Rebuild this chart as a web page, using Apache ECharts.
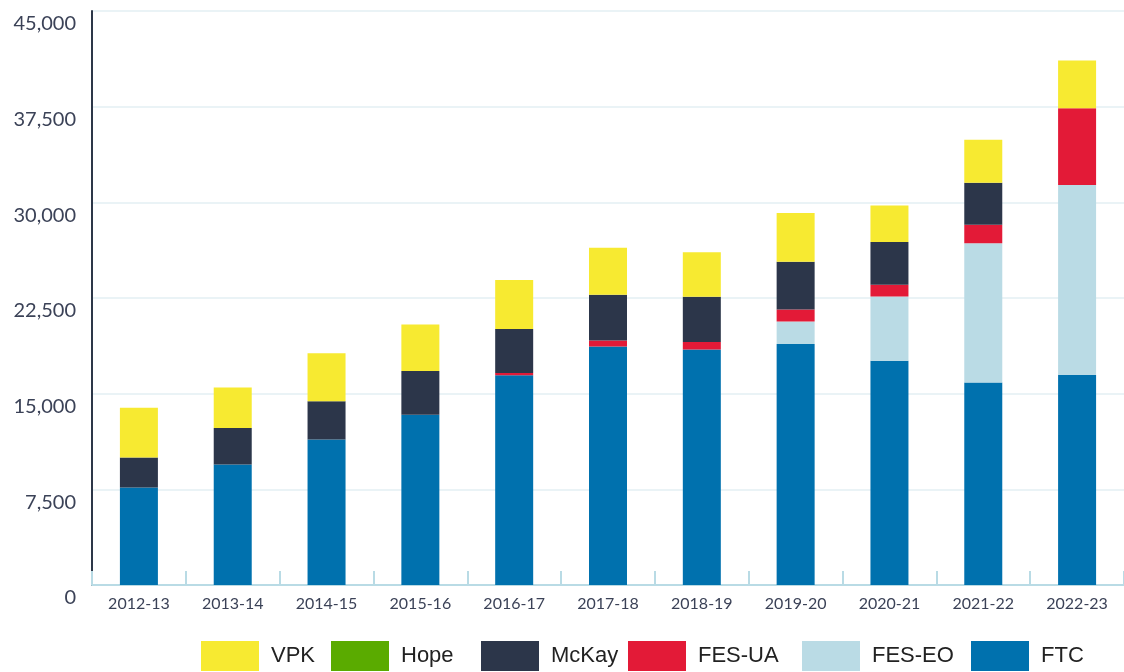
<!DOCTYPE html>
<html>
<head>
<meta charset="utf-8">
<script src="https://cdn.jsdelivr.net/npm/echarts@6/dist/echarts.min.js"></script>
<style>
  html, body { margin: 0; padding: 0; background: #fff; }
  #chart { width: 1124px; height: 672px; }
</style>
</head>
<body>
<div id="chart"></div>
<script>
var years = ["2012-13", "2013-14", "2014-15", "2015-16", "2016-17", "2017-18", "2018-19", "2019-20", "2020-21", "2021-22", "2022-23"];
// stacked bottom to top
var ftc = [7650, 9450, 11400, 13350, 16450, 18700, 18460, 18890, 17580, 15880, 16480];
var fesEO = [0, 0, 0, 0, 0, 0, 0, 1770, 5040, 10920, 14870];
var fesUA = [0, 0, 0, 0, 180, 470, 600, 940, 920, 1440, 6030];
var mckay = [2350, 2850, 3000, 3420, 3430, 3580, 3530, 3740, 3350, 3290, 0];
var hope = [0, 0, 0, 0, 0, 0, 0, 0, 0, 0, 0];
var vpk = [3900, 3180, 3760, 3650, 3860, 3680, 3500, 3820, 2870, 3370, 3730];

var yTicks = [0, 7500, 15000, 22500, 30000, 37500, 45000];
var legendNames = ["VPK", "Hope", "McKay", "FES-UA", "FES-EO", "FTC"];

var colors = {
  "FTC": "#0071ae",
  "FES-EO": "#badbe5",
  "FES-UA": "#e31a37",
  "McKay": "#2c364a",
  "Hope": "#5aab00",
  "VPK": "#f7ea31"
};

var textColor = "#3b4257";
var fontFamily = "Lato, 'Open Sans', sans-serif";

function makeSeries(name, data) {
  return {
    name: name,
    type: "bar",
    stack: "total",
    barWidth: 38,
    data: data,
    itemStyle: { color: colors[name] },
    emphasis: { disabled: true }
  };
}

// one legend per item so each sits where the reference puts it
var legendLeft = [201, 331, 481, 628, 802, 971];
var legends = legendNames.map(function (name, i) {
  return {
    data: [name],
    left: legendLeft[i],
    top: 641,
    padding: 0,
    icon: "rect",
    itemWidth: 58,
    itemHeight: 30,
    selectedMode: false,
    textStyle: {
      color: "#222",
      fontSize: 22,
      fontFamily: "'Liberation Sans', Arial, sans-serif",
      padding: [0, 0, 0, 7]
    }
  };
});

var chart = echarts.init(document.getElementById("chart"));
chart.setOption({
  animation: false,
  color: legendNames.map(function (n) { return colors[n]; }),
  legend: legends,
  grid: {
    left: 92,
    right: -8,
    top: 11,
    bottom: 87,
    containLabel: false
  },
  xAxis: {
    type: "category",
    data: years,
    axisLine: { lineStyle: { color: "#b9dbe5", width: 2 } },
    axisTick: {
      show: true,
      inside: true,
      length: 14,
      interval: 0,
      lineStyle: { color: "#b9dbe5", width: 2 }
    },
    axisLabel: {
      color: textColor,
      fontSize: 16,
      fontFamily: fontFamily,
      margin: 11
    }
  },
  yAxis: {
    type: "value",
    min: yTicks[0],
    max: yTicks[yTicks.length - 1],
    interval: 7500,
    axisLine: { show: true, lineStyle: { color: "#2d3748", width: 2 } },
    axisTick: { show: false },
    splitLine: { lineStyle: { color: "#eaf3f6", width: 2 } },
    axisLabel: {
      color: textColor,
      fontSize: 20,
      fontFamily: fontFamily,
      margin: 16,
      verticalAlign: "top",
      padding: [3, 0, 0, 0],
      formatter: function (v) { return v.toLocaleString("en-US"); }
    }
  },
  series: [
    makeSeries("FTC", ftc),
    makeSeries("FES-EO", fesEO),
    makeSeries("FES-UA", fesUA),
    makeSeries("McKay", mckay),
    makeSeries("Hope", hope),
    makeSeries("VPK", vpk)
  ]
});
</script>
</body>
</html>
